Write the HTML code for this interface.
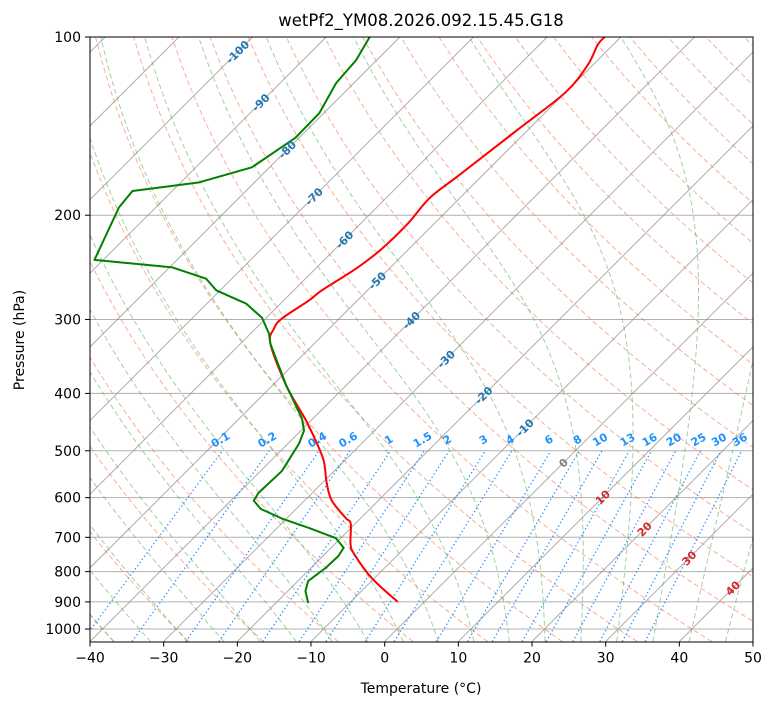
<!DOCTYPE html>
<html><head><meta charset="utf-8">
<style>
html,body{margin:0;padding:0;background:#fff;}
svg{display:block;font-family:"DejaVu Sans","Liberation Sans",sans-serif;}
</style></head>
<body>
<svg id="chart" width="775" height="708" viewBox="0 0 775 708" xmlns="http://www.w3.org/2000/svg">
<defs><clipPath id="plotclip"><rect x="90" y="37" width="663" height="605"/></clipPath></defs>
<rect x="0" y="0" width="775" height="708" fill="#fff"/>
<text x="421" y="26" font-size="16.5" text-anchor="middle">wetPf2_YM08.2026.092.15.45.G18</text>
<g id="plot" clip-path="url(#plotclip)"></g>
<g id="labels"></g>
<rect x="90" y="37" width="663" height="605" fill="none" stroke="#000" stroke-width="1"/>
<g id="axes"></g>
<text x="421" y="693" font-size="14" text-anchor="middle">Temperature (°C)</text>
<text x="24" y="340" font-size="14" text-anchor="middle" transform="rotate(-90 24 340)">Pressure (hPa)</text>
</svg>
<script>
// ---- data ----
const tempPressure = [900,820,746,718,664,649,607,568,520,481,441,388,330,311,299,279,268,246,228,206,187,171,143,124,111.5,103,100];
const tempValues = [-3.6,-10.4,-16.1,-17.9,-20.6,-22.1,-26.3,-29.3,-32.8,-36.6,-41.1,-48.1,-55.9,-57.5,-57.8,-56.6,-56.2,-54.5,-53.7,-53.6,-54.1,-53.2,-51.4,-50.0,-50.7,-52.1,-52.2];
const dewPressure = [904,863,830,788,752,729,702,675,651,627,607,589,541,486,462,441,388,330,317,298,282,268,256,245,238,194,182,176,166,148,134.5,119.6,109.4,100];
const dewValues = [-15.6,-17.6,-18.6,-18.0,-17.9,-18.3,-20.7,-25.7,-30.6,-34.8,-36.9,-37.3,-37.1,-38.5,-39.6,-41.5,-48.1,-55.9,-57.5,-60.6,-64.7,-70.5,-73.5,-79.6,-91.2,-95.0,-95.4,-87.5,-82.4,-80.5,-80.6,-82.4,-82.8,-84.1];
const xTicks = [-40,-30,-20,-10,0,10,20,30,40,50];
const yTicks = [100,200,300,400,500,600,700,800,900,1000];
const isotherms = [-120,-110,-100,-90,-80,-70,-60,-50,-40,-30,-20,-10,0,10,20,30,40,50];
const isothermLabelT = [-100,-90,-80,-70,-60,-50,-40,-30,-20,-10,0,10,20,30,40];
const isothermLabelP = [106,129,155,186,220,258,301,350,403,457,524,599,678,759,853];
const mixingRatios = [0.1,0.2,0.4,0.6,1,1.5,2,3,4,6,8,10,13,16,20,25,30,36];
const dryStart = [-50,-40,-30,-20,-10,0,10,20,30,40,50,60,70,80,90,100,110,120,130,140,150,160,170,180,190,200];
const moistStart = [-40,-35,-30,-25,-20,-15,-10,-5,0,5,10,15,20,25,30,35,40,45];

// ---- axis functions ----
const PTOP=100, PBOT=1050, X0=90, X1=753, YT=37, PXD=592, TMIN=-40, TMAX=50;
const KX=(X1-X0)/(TMAX-TMIN);
function yP(p){return YT+PXD*Math.log10(p/PTOP);}
const YB=yP(PBOT);
function xT(T,p){return X0+(T-TMIN)*KX+(YB-yP(p));}

const NS="http://www.w3.org/2000/svg";
const plot=document.getElementById('plot');
const labels=document.getElementById('labels');
const axes=document.getElementById('axes');
function mk(tag,attrs,parent){const e=document.createElementNS(NS,tag);for(const k in attrs)e.setAttribute(k,attrs[k]);parent.appendChild(e);return e;}
function pathFrom(ps,ts){return ps.map((p,i)=>(i?'L':'M')+xT(ts[i],p).toFixed(2)+' '+yP(p).toFixed(2)).join(' ');}
function smoothPath(ps,ts){
  const pts=ps.map((p,i)=>[xT(ts[i],p),yP(p)]);
  let d='M'+pts[0][0].toFixed(2)+' '+pts[0][1].toFixed(2);
  for(let i=0;i<pts.length-1;i++){
    const p0=pts[Math.max(0,i-1)],p1=pts[i],p2=pts[i+1],p3=pts[Math.min(pts.length-1,i+2)];
    const c1=[p1[0]+(p2[0]-p0[0])/6,p1[1]+(p2[1]-p0[1])/6];
    const c2=[p2[0]-(p3[0]-p1[0])/6,p2[1]-(p3[1]-p1[1])/6];
    d+=` C${c1[0].toFixed(2)} ${c1[1].toFixed(2)} ${c2[0].toFixed(2)} ${c2[1].toFixed(2)} ${p2[0].toFixed(2)} ${p2[1].toFixed(2)}`;
  }
  return d;
}

yTicks.forEach(p=>{
  const l=mk('line',{x1:X0,x2:X1,y1:yP(p),y2:yP(p),stroke:'#b0b0b0','stroke-width':1},plot);
  
  
});
isotherms.forEach(T=>{
  const l=mk('path',{d:pathFrom([PBOT,PTOP],[T,T]),stroke:'#8a8a8a','stroke-width':1,'stroke-opacity':0.7,fill:'none'},plot);
  
  
});
function presLevels(){const a=[];for(let p=PBOT;p>=PTOP-1;p-=10)a.push(p);return a;}
const levels=presLevels();
dryStart.forEach(t0=>{
  const th=t0+273.15;
  const ts=levels.map(p=>th*Math.pow(p/1000,0.2857)-273.15);
  const l=mk('path',{d:pathFrom(levels,ts),stroke:'#f07a55','stroke-width':1,'stroke-opacity':0.6,fill:'none','stroke-dasharray':'5,3'},plot);
  
  
});
function es(Tc){return 6.112*Math.exp(17.67*Tc/(Tc+243.5));}
function dTdp(T,p){const Rd=287.04,Cp=1005.7,Lv=2.501e6,eps=0.622;const Tc=T-273.15;const e=es(Tc);const rs=eps*e/(p-e);
  return (1/p)*(Rd*T+Lv*rs)/(Cp+Lv*Lv*rs*eps/(Rd*T*T));}
function moist(t0){
  const up=[],dn=[];let T=t0+273.15;
  for(let p=1000;p>=PTOP;p-=5){up.push([p,T-273.15]);T-=dTdp(T,p)*5;}
  T=t0+273.15;for(let p=1000;p<=PBOT;p+=5){dn.push([p,T-273.15]);T+=dTdp(T,p)*5;}
  const all=dn.reverse().concat(up.slice(1));
  return [all.map(a=>a[0]),all.map(a=>a[1])];
}
moistStart.forEach(t0=>{
  const r=moist(t0);
  const l=mk('path',{d:pathFrom(r[0],r[1]),stroke:'#55aa55','stroke-width':1,'stroke-opacity':0.55,fill:'none','stroke-dasharray':'5,3'},plot);
  
  
});
function tdFromW(w,p){const e=w*p/(622+w);const L=Math.log(e/6.112);return 243.5*L/(17.67-L);}
mixingRatios.forEach(w=>{
  const ps=[PBOT,500];
  const l=mk('path',{d:pathFrom(ps,ps.map(p=>tdFromW(w,p))),stroke:'#1e90ff','stroke-width':1.3,fill:'none','stroke-dasharray':'1.3,2.6'},plot);
  
  
  const lp=485, x=xT(tdFromW(w,500),500), y=yP(lp);
  const t=mk('text',{x:x,y:y,'font-size':11,'font-weight':'bold',fill:'#1e90ff','text-anchor':'middle',transform:`rotate(-30 ${x} ${y})`},labels);
  t.textContent=String(w);
  
  
});
isothermLabelT.forEach((T,i)=>{
  const p=isothermLabelP[i];const x=xT(T,p), y=yP(p);
  const col=T<0?'#1f77b4':(T===0?'#7f7f7f':'#d62728');
  const t=mk('text',{x:x,y:y+4,'font-size':11,'font-weight':'bold',fill:col,'text-anchor':'middle',transform:`rotate(-45 ${x} ${y})`},labels);
  t.textContent=String(T);
  
  
});
const tl=mk('path',{d:smoothPath(tempPressure,tempValues),stroke:'#ff0000','stroke-width':2,fill:'none','stroke-linejoin':'round'},plot);


const dl=mk('path',{d:pathFrom(dewPressure,dewValues),stroke:'#008000','stroke-width':2,fill:'none','stroke-linejoin':'round'},plot);


xTicks.forEach(T=>{
  const x=X0+(T-TMIN)*KX;
  const l=mk('line',{x1:x,x2:x,y1:YB,y2:YB+5,stroke:'#000','stroke-width':1},axes);
  
  
  const t=mk('text',{x:x,y:YB+21,'font-size':14,'text-anchor':'middle'},axes);
  t.textContent=T<0?'\u2212'+Math.abs(T):String(T);
  
  
});
yTicks.forEach(p=>{
  const y=yP(p);
  const l=mk('line',{x1:X0-5,x2:X0,y1:y,y2:y,stroke:'#000','stroke-width':1},axes);
  
  
  const t=mk('text',{x:X0-9,y:y+5,'font-size':14,'text-anchor':'end'},axes);
  t.textContent=String(p);
  
  
});
</script>
</body></html>
